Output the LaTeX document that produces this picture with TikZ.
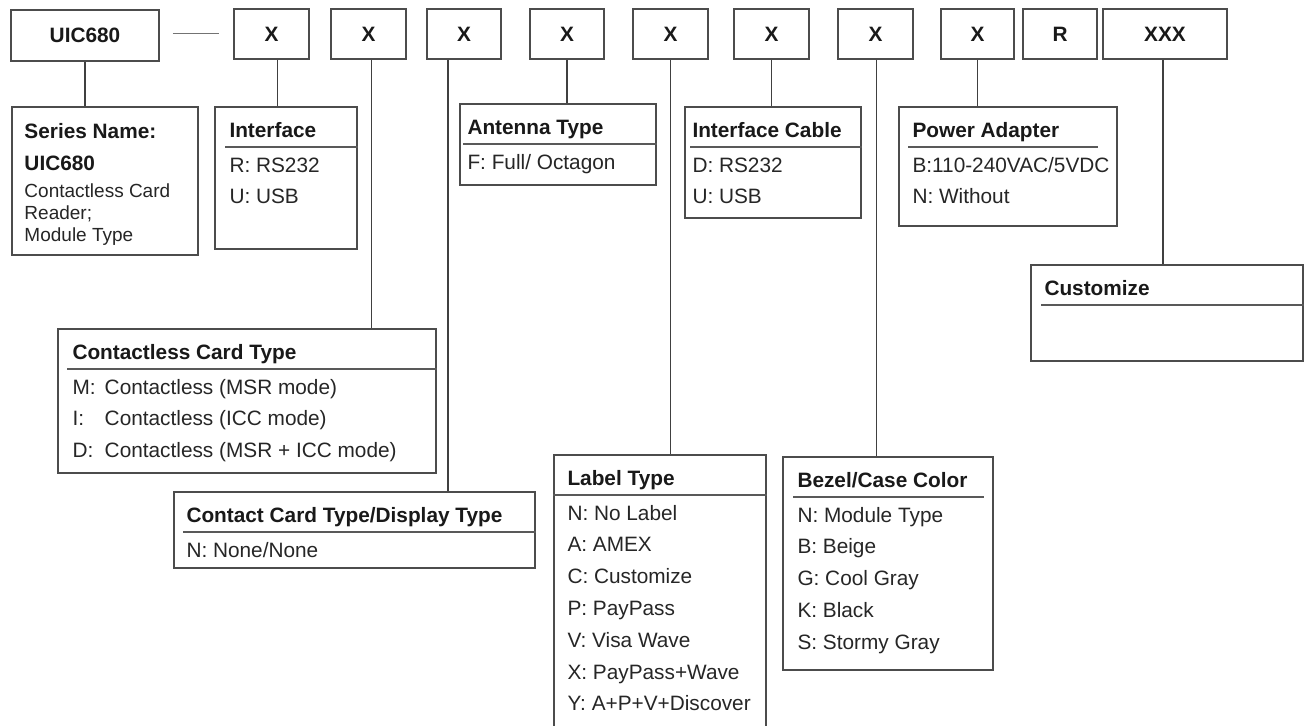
\documentclass[tikz,border=0pt]{standalone}
\usepackage{fontspec}
\setmainfont{Liberation Sans}
\usetikzlibrary{positioning,calc,fit}

\tikzset{
  codebox/.style={draw=black!70, line width=0.9pt, inner sep=0pt},
  codetxt/.style={inner sep=0pt, font=\bfseries\fontsize{10.4}{12.5}\selectfont, text=black!90},
  optbox/.style={draw=black!70, line width=0.9pt, inner sep=0pt},
  hdr/.style={draw=black!65, line width=0.9pt},
  conn/.style={draw=black!75, line width=0.8pt},
  ttl/.style={inner sep=0pt, font=\bfseries\fontsize{10.4}{12.5}\selectfont, text=black!90},
  itm/.style={inner sep=0pt, font=\fontsize{10.4}{12.5}\selectfont, text=black!85},
}

% name, top left, bottom right, title, items, rule insets (left, right), text inset
\newcommand{\optbox}[8]{%
  \node[optbox, fit={#2 #3}] (#1) {};
  \node[ttl, anchor=base west] (#1-t) at ($(#1.north west)+(#8,31)$) {#4};
  \draw[hdr] ($(#1.north west)+(#6,41)$) -- ($(#1.north east)+(-#7,41)$);
  \foreach \txt [count=\idx from 0] in {#5}
    \node[itm, anchor=base west] (#1-\idx) at ($(#1.north west)+(#8,66+31.8*\idx)$) {\txt};
}

\begin{document}
\begin{tikzpicture}[x=0.5pt, y=-0.5pt]
\fill[white] (0,0) rectangle (1312,725);
\useasboundingbox (0,0) rectangle (1312,725);

% model code
\node[codebox, fit={(11,10) (159,61)}] (uic) {};
\node[codetxt] (uic-t) at (uic) {UIC680};
\foreach \l/\r/\txt [count=\i] in {234/309/X, 331/406/X, 427/501/X, 530/604/X, 633/708/X, 734/809/X, 838/913/X, 941/1014/X, 1023/1097/R, 1103/1227/XXX} {
  \node[codebox, fit={(\l,9) (\r,59)}] (c\i) {};
  \node[codetxt] (c\i-t) at (c\i) {\txt};
}

\coordinate (d1) at ($(uic.east)+(13,-2)$);
\coordinate (d2) at ($(c1.west)+(-14,0)$);
\draw[conn, draw=black!55] (d1) -- (d1 -| d2);

% series
\node[optbox, fit={(12,107) (198,255)}] (series) {};
\node[ttl, anchor=base west] (series-t) at ($(series.north west)+(13,32)$) {Series Name:};
\node[ttl, anchor=base west] (series-n) at ($(series.north west)+(13,64)$) {UIC680};
\foreach \txt/\yy [count=\idx] in {Contactless Card/91, Reader;/113, Module Type/135}
  \node[itm, font=\fontsize{9.5}{11}\selectfont, anchor=base west] (series-\idx) at ($(series.north west)+(13,\yy)$) {\txt};

% options
\optbox{iface}{(215,107)}{(357,249)}{Interface}{R: RS232, U: USB}{11}{0}{15}
\optbox{antenna}{(460,104)}{(656,185)}{Antenna Type}{F: Full/ Octagon}{4}{0}{8}
\optbox{cable}{(685,107)}{(861,218)}{Interface Cable}{D: RS232, U: USB}{6}{0}{8}
\optbox{power}{(899,107)}{(1117,226)}{Power Adapter}{B:110-240VAC/5VDC, N: Without}{10}{20}{14}
\optbox{custom}{(1031,265)}{(1303,361)}{Customize}{}{11}{0}{14}
\optbox{cless}{(58,329)}{(436,473)}{Contactless Card Type}{\makebox[1.55em][l]{M:}Contactless (MSR mode), \makebox[1.55em][l]{I:}Contactless (ICC mode), \makebox[1.55em][l]{D:}Contactless (MSR + ICC mode)}{10}{0}{15}
\optbox{contact}{(174,492)}{(535,568)}{Contact Card Type/Display Type}{N: None/None}{10}{0}{13}
\optbox{label}{(554,455)}{(766,745)}{Label Type}{N: No Label, A: AMEX, C: Customize, P: PayPass, V: Visa Wave, X: PayPass+Wave, Y: A+P+V+Discover}{0}{0}{14}
\optbox{bezel}{(783,457)}{(993,670)}{Bezel/Case Color}{N: Module Type, B: Beige, G: Cool Gray, K: Black, S: Stormy Gray}{11}{10}{15}

% connectors
\draw[conn] (uic.south) -- (uic.south |- series.north);
\foreach \a/\b/\s in {c1/iface/6, c2/cless/3, c3/contact/-16, c4/antenna/0, c5/label/0, c6/cable/0, c7/bezel/1, c8/power/0, c10/custom/-2} {
  \coordinate (k) at ($(\a.south)+(\s,0)$);
  \draw[conn] (k) -- (k |- \b.north);
}
\end{tikzpicture}
\end{document}
